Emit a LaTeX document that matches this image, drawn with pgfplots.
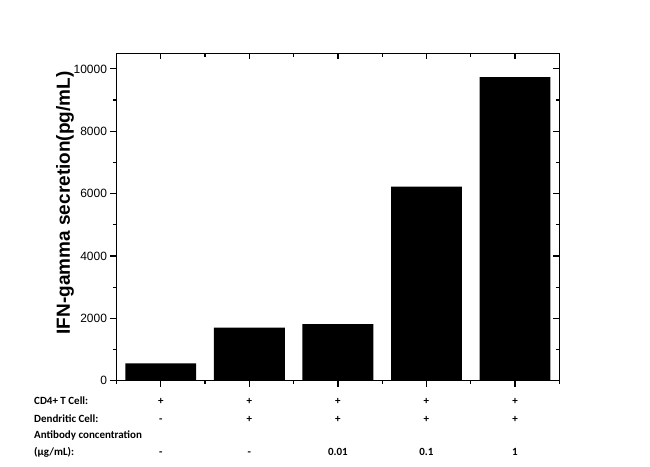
\documentclass[border=0pt]{standalone}
\usepackage{fontspec}
\setmainfont{Liberation Sans}
\newfontfamily\calfont{Carlito}
\usepackage{pgfplots}
\pgfplotsset{compat=1.18}

\pgfplotsset{
  ifnframe/.style={
    width=442.8bp, height=327.4bp, scale only axis,
    at={(0,0)}, anchor=south west,
    xmin=0.5, xmax=5.5, ymin=0, ymax=10500,
    xtick={1,...,5}, minor xtick={0.5,1.5,...,5.5},
    ytick={0,2000,...,10000}, minor ytick={1000,3000,...,9000},
    scaled y ticks=false,
    xticklabels={},
    axis line style={line width=1.2bp},
    tick style={black, line width=1.2bp},
    major tick length=6bp, minor tick length=3.5bp,
  }
}

\begin{document}
\begin{tikzpicture}[x=1bp,y=1bp]
\path[use as bounding box] (-116.5,-86.3) rectangle (533.5,380.7);

\begin{axis}[ifnframe,
  tick align=outside, xtick pos=left, ytick pos=left,
  ylabel={IFN-gamma secretion(pg/mL)},
  ylabel style={at={(rel axis cs:-0.1163,0.543)}, anchor=center,
    font=\fontsize{19bp}{21bp}\selectfont\bfseries},
  yticklabel={\pgfmathprintnumber[assume math mode=true,1000 sep={}]{\tick}},
  yticklabel style={font=\fontsize{12bp}{14bp}\selectfont},
  ybar, bar width=0.8,
]
\addplot[fill=black, draw=none] coordinates {
  (1,559) (2,1702) (3,1811) (4,6220) (5,9735)
};
\end{axis}

% mirrored frame: ticks inward on top and right
\begin{axis}[ifnframe,
  tick align=inside, xtick pos=right, ytick pos=right,
  yticklabels={},
]
\end{axis}

\begin{scope}[every node/.style={inner sep=0pt,
    font=\calfont\bfseries\fontsize{11bp}{13bp}\selectfont}]
  \node[anchor=base west] at (-82.5,-24.3) {CD4+ T Cell:};
  \node[anchor=base west] at (-82.5,-42.0) {Dendritic Cell:};
  \node[anchor=base west] at (-82.5,-57.6) {Antibody concentration};
  \node[anchor=base west] at (-82.5,-74.9) {(µg/mL):};
  \foreach \xc/\cd/\dc/\ab in {44.28/+/-/-, 132.84/+/+/-, 221.4/+/+/0.01,
                               309.96/+/+/0.1, 398.52/+/+/1} {
    \node[anchor=base] at (\xc,-24.3) {\cd};
    \node[anchor=base] at (\xc,-42.0) {\dc};
    \node[anchor=base] at (\xc,-74.9) {\ab};
  }
\end{scope}
\end{tikzpicture}
\end{document}
